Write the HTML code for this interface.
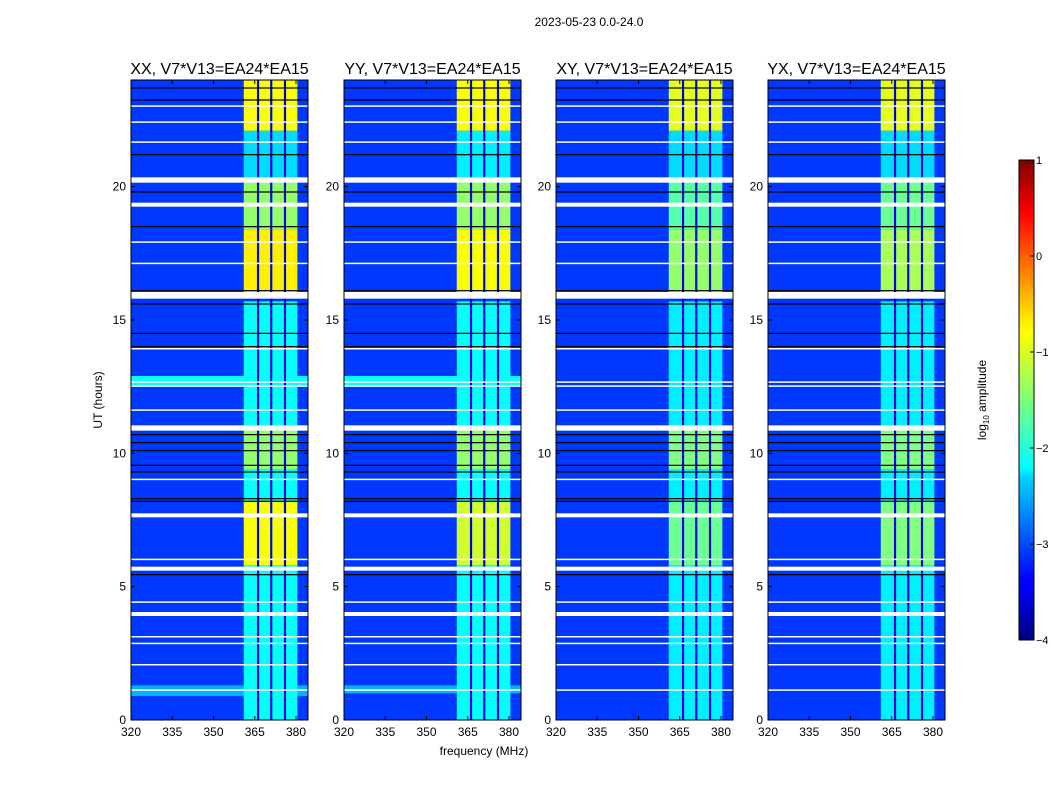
<!DOCTYPE html>
<html><head><meta charset="utf-8"><style>
body{margin:0;background:#fff;font-family:"Liberation Sans",sans-serif;}
svg text{font-family:"Liberation Sans",sans-serif;}
</style></head><body>
<svg id="fig" width="1050" height="800" xmlns="http://www.w3.org/2000/svg">
<defs>
<linearGradient id="jet" x1="0" y1="1" x2="0" y2="0">
<stop offset="0" stop-color="#00007f"/><stop offset="0.11" stop-color="#0000ff"/><stop offset="0.125" stop-color="#0000ff"/>
<stop offset="0.34" stop-color="#00d4ff"/><stop offset="0.36" stop-color="#00ffff"/><stop offset="0.5" stop-color="#7dff7a"/>
<stop offset="0.64" stop-color="#ffff00"/><stop offset="0.66" stop-color="#fff000"/><stop offset="0.89" stop-color="#ff0000"/><stop offset="1" stop-color="#7f0000"/>
</linearGradient>
</defs>
<text x="589" y="26" font-size="12" text-anchor="middle">2023-05-23 0.0-24.0</text>
<text transform="translate(102,400) rotate(-90)" font-size="12" text-anchor="middle">UT (hours)</text>
<text x="484" y="755" font-size="12" text-anchor="middle">frequency (MHz)</text>
<g id="panels"></g>
<g>
<rect x="1019" y="160" width="15" height="480" fill="url(#jet)" stroke="#000" stroke-width="1"/>
<g id="cbticks"></g>
<text transform="translate(986,400) rotate(-90)" font-size="12" text-anchor="middle">log<tspan font-size="8" dy="3">10</tspan><tspan dy="-3"> amplitude</tspan></text>
</g>
</svg>
<script>
const NS="http://www.w3.org/2000/svg";
const panelTitles=["XX, V7*V13=EA24*EA15","YY, V7*V13=EA24*EA15","XY, V7*V13=EA24*EA15","YX, V7*V13=EA24*EA15"];
const panelLefts=[131,344,556,768];
const xTicks=[320,335,350,365,380];
const yTicks=[0,5,10,15,20];
const cbTicks=[1,0,-1,-2,-3,-4];
const backgroundLevel=-3.1;
const gapLevel=-3.5;
const subbands=[[361,365.8],[366.6,370.6],[371.4,375.6],[376.4,380.5]];
// band segments: [startHour, endHour, log10 amplitude] per panel
const bandXX=[[0,5.8,-2.1],[5.8,8.2,-0.9],[8.2,9.4,-2.1],[9.4,10.9,-1.4],[10.9,15.7,-2.1],[16.0,18.4,-0.8],[18.4,20.2,-1.4],[20.2,22.1,-2.3],[22.1,24,-0.9]];
const bandYY=[[0,5.8,-2.1],[5.8,8.2,-1.1],[8.2,9.4,-2.1],[9.4,10.9,-1.4],[10.9,15.7,-2.1],[16.0,18.4,-0.9],[18.4,20.2,-1.4],[20.2,22.1,-2.2],[22.1,24,-0.9]];
const bandXY=[[0,5.8,-2.2],[5.8,8.2,-1.6],[8.2,9.4,-2.2],[9.4,10.9,-1.5],[10.9,15.7,-2.2],[16.0,18.4,-1.4],[18.4,20.2,-1.7],[20.2,22.1,-2.3],[22.1,24,-1.0]];
const bandYX=[[0,5.8,-2.2],[5.8,8.2,-1.5],[8.2,9.4,-2.2],[9.4,10.9,-1.5],[10.9,15.7,-2.2],[16.0,18.4,-1.3],[18.4,20.2,-1.6],[20.2,22.1,-2.3],[22.1,24,-1.0]];
const bands=[bandXX,bandYY,bandXY,bandYX];
// broadband strips [start,end,level] per panel
const stripsXX=[[12.5,12.9,-2.1],[0.9,1.3,-2.5]];
const stripsYY=[[12.5,12.9,-2.1],[1.0,1.3,-2.5]];
const stripsXY=[];
const stripsYX=[];
const strips=[stripsXX,stripsYY,stripsXY,stripsYX];
// flagged (white) time ranges, hours
const flags=[[20.15,20.35],[19.25,19.4],[15.8,16.05],[10.85,11.05],[7.6,7.75],[5.6,5.75],[3.9,4.05],[23.0,23.05],[22.4,22.45],[21.65,21.7],[17.9,17.95],[17.1,17.15],[13.9,13.95],[12.65,12.7],[12.5,12.55],[3.1,3.15],[2.85,2.9],[2.05,2.1],[1.1,1.15],[4.4,4.45],[6.0,6.05],[9.0,9.05],[11.6,11.65]];
// data gaps (black) hours
const blacks=[23.7,23.25,21.2,19.8,18.5,16.1,15.6,14.5,14.0,10.7,10.4,10.1,9.55,9.3,8.3,8.2,5.45];
function jet(v){let t=Math.max(0,Math.min(1,(v+4)/5));const c=x=>Math.round(255*Math.max(0,Math.min(1,1.5-Math.abs(4*t-x))));return `rgb(${c(3)},${c(2)},${c(1)})`;}
function rect(g,x,y,w,h,fill,name){const r=document.createElementNS(NS,'rect');r.setAttribute('x',x);r.setAttribute('y',y);r.setAttribute('width',w);r.setAttribute('height',h);r.setAttribute('fill',fill);


g.appendChild(r);return r;}
function txt(g,x,y,s,size,anchor){const t=document.createElementNS(NS,'text');t.setAttribute('x',x);t.setAttribute('y',y);t.setAttribute('font-size',size);t.setAttribute('text-anchor',anchor);t.textContent=s;g.appendChild(t);return t;}
const root=document.getElementById('panels');
const W=177,TOP=80,H=640;
panelLefts.forEach((L,pi)=>{
 const g=document.createElementNS(NS,'g');
 
 
 root.appendChild(g);
 const xs=f=>L+(f-320)*2.75;
 const ys=h=>TOP+H-h*(H/24);
 rect(g,L,TOP,W,H,jet(backgroundLevel),'background');
 strips[pi].forEach(s=>rect(g,L,ys(s[1]),W,ys(s[0])-ys(s[1]),jet(s[2]),'strip'));
 for(let i=0;i<subbands.length-1;i++){rect(g,xs(subbands[i][1]),TOP,xs(subbands[i+1][0])-xs(subbands[i][1]),H,jet(gapLevel),'subband-gap');}
 bands[pi].forEach(b=>{subbands.forEach(sb=>{rect(g,xs(sb[0]),ys(b[1]),xs(sb[1])-xs(sb[0]),ys(b[0])-ys(b[1]),jet(b[2]),'band-cell');});});
 blacks.forEach(h=>rect(g,L,ys(h)-0.6,W,1.2,'#000','gap-line'));
 flags.forEach(f=>rect(g,L,ys(f[1]),W,Math.max(1.5,ys(f[0])-ys(f[1])),'#fff','flag'));
 const fr=rect(g,L,TOP,W,H,'none','frame');fr.setAttribute('stroke','#000');
 const t=txt(g,L+W/2,74,panelTitles[pi],16,'middle');
 
 
 xTicks.forEach(v=>{const x=xs(v);rect(g,x-0.5,TOP+H-4,1,4,'#000','x-tick');rect(g,x-0.5,TOP,1,4,'#000','x-tick');const l=txt(g,x,TOP+H+16,String(v),12,'middle');
  
  });
 yTicks.forEach(v=>{const y=ys(v);rect(g,L,y-0.5,4,1,'#000','y-tick');rect(g,L+W-4,y-0.5,4,1,'#000','y-tick');const l=txt(g,L-5,y+4,String(v),12,'end');
  
  });
});
const cb=document.getElementById('cbticks');
cbTicks.forEach(v=>{const y=640-(v+4)/5*480;rect(cb,1030,y-0.5,4,1,'#000','cb-tick');const l=txt(cb,1036,y+4,v<0?'\u2212'+(-v):String(v),11,'start');
 
 });
</script>
</body></html>
